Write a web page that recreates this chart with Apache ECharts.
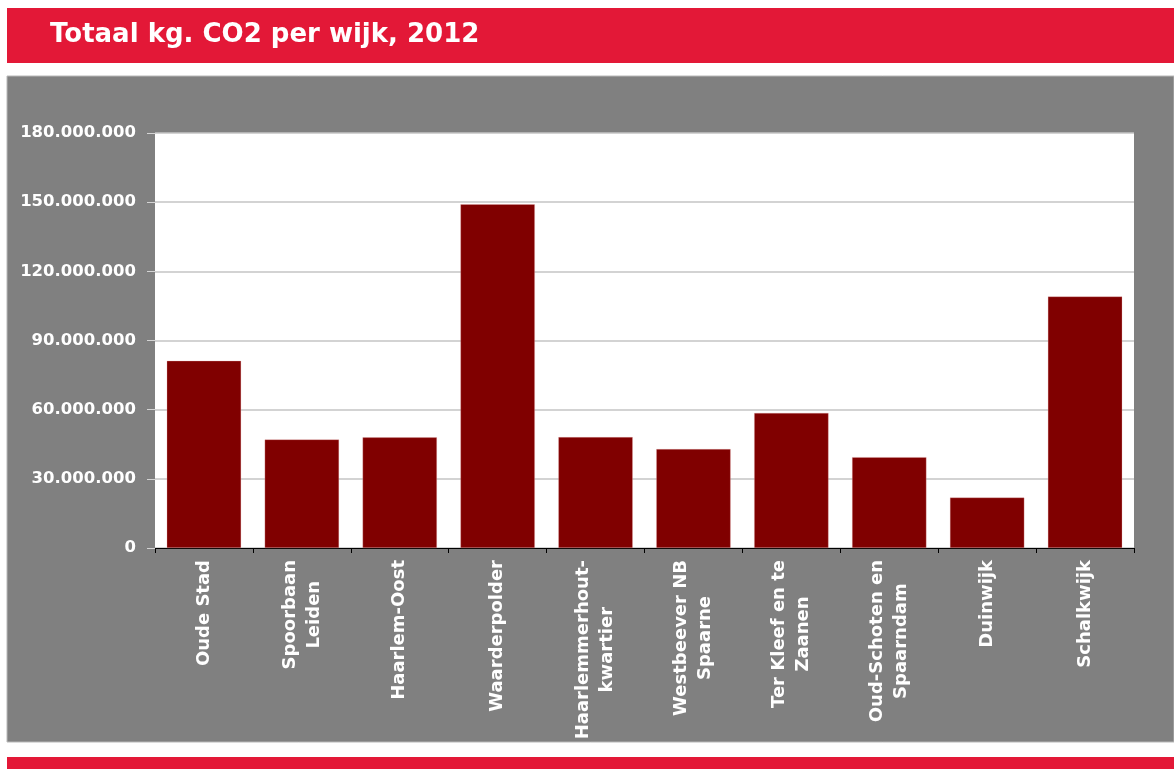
<!DOCTYPE html>
<html>
<head>
<meta charset="utf-8">
<title>Totaal kg. CO2 per wijk, 2012</title>
<script src="https://cdn.jsdelivr.net/npm/echarts@6/dist/echarts.min.js"></script>
<style>
  html, body { margin: 0; padding: 0; background: #ffffff; }
  #chart { width: 1174px; height: 769px; }
</style>
</head>
<body>
<div id="chart"></div>
<script>
// Wijken (districts) and their total CO2 emissions in kg, 2012
const wijken = [
  'Oude Stad',
  'Spoorbaan\nLeiden',
  'Haarlem-Oost',
  'Waarderpolder',
  'Haarlemmerhout-\nkwartier',
  'Westbeever NB\nSpaarne',
  'Ter Kleef en te\nZaanen',
  'Oud-Schoten en\nSpaarndam',
  'Duinwijk',
  'Schalkwijk'
];
const co2Kg = [
  81200000, 47100000, 48000000, 149100000, 48100000,
  42900000, 58600000, 39400000, 21900000, 109100000
];
const yMin = 0;
const yMax = 180000000;
const yStep = 30000000;

const RED = '#e31837';
const PANEL = '#808080';
const BAR = '#800000';
const FONT = '"DejaVu Sans", "Liberation Sans", Arial, sans-serif';

// Dutch thousands separator: 30000000 -> 30.000.000
function dutchNumber(v) {
  return String(Math.round(v)).replace(/\B(?=(\d{3})+(?!\d))/g, '.');
}

const chart = echarts.init(document.getElementById('chart'), null, { renderer: 'canvas' });

chart.setOption({
  animation: false,
  backgroundColor: '#ffffff',
  graphic: [
    { type: 'rect', z: -10, shape: { x: 7, y: 8, width: 1167, height: 55 }, style: { fill: RED } },
    { type: 'rect', z: -10, shape: { x: 7, y: 76, width: 1167, height: 666 },
      style: { fill: PANEL, stroke: '#b8b8b8', lineWidth: 1 } },
    { type: 'rect', z: -10, shape: { x: 7, y: 757, width: 1167, height: 12 }, style: { fill: RED } }
  ],
  title: {
    text: 'Totaal kg. CO2 per wijk, 2012',
    left: 50,
    top: 21,
    padding: 0,
    textStyle: { color: '#ffffff', fontFamily: FONT, fontWeight: 'bold', fontSize: 26, lineHeight: 28 }
  },
  grid: {
    left: 155,
    right: 40,
    top: 133,
    bottom: 221,
    show: true,
    backgroundColor: '#ffffff',
    borderWidth: 0
  },
  xAxis: {
    type: 'category',
    data: wijken,
    axisLine: { show: true, lineStyle: { color: '#000000', width: 1 } },
    axisTick: { show: true, length: 5, lineStyle: { color: '#000000' } },
    axisLabel: {
      rotate: 90,
      margin: 12,
      interval: 0,
      color: '#ffffff',
      fontFamily: FONT,
      fontWeight: 'bold',
      fontSize: 18,
      lineHeight: 24,
      formatter: function (name) {
        return name.split('\n').map(function (line) { return '{c|' + line + '}'; }).join('\n');
      },
      rich: {
        c: { align: 'center', color: '#ffffff', fontFamily: FONT, fontWeight: 'bold', fontSize: 18, lineHeight: 24 }
      }
    },
    splitLine: { show: false }
  },
  yAxis: {
    type: 'value',
    min: yMin,
    max: yMax,
    interval: yStep,
    axisLine: { show: false },
    axisTick: { show: true, length: 8, lineStyle: { color: '#d4d4d4' } },
    axisLabel: {
      margin: 19,
      color: '#ffffff',
      fontFamily: FONT,
      fontWeight: 'bold',
      fontSize: 16.5,
      formatter: dutchNumber
    },
    splitLine: { show: true, lineStyle: { color: '#c4c4c4', width: 1.5 } }
  },
  series: [{
    type: 'bar',
    data: co2Kg,
    barCategoryGap: '24%',
    itemStyle: { color: BAR, borderColor: 'rgba(230,170,170,0.6)', borderWidth: 0.5 }
  }]
});
</script>
</body>
</html>
